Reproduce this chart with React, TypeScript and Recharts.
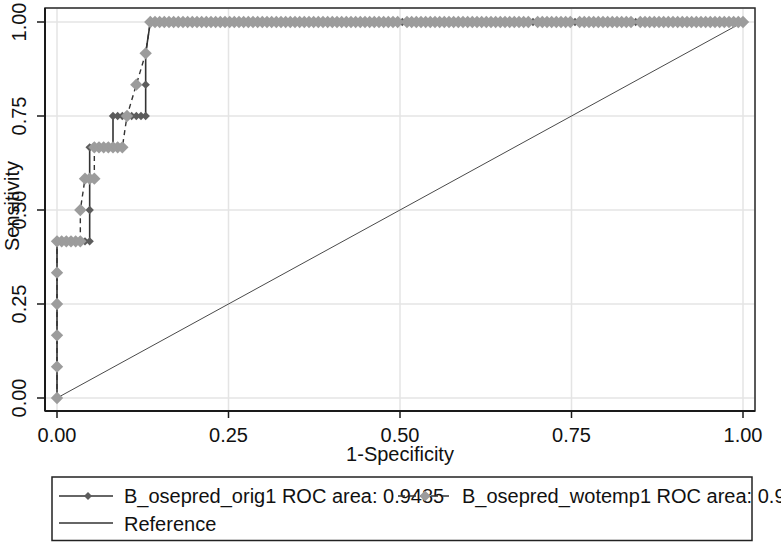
import * as React from "react";
import {
  LineChart,
  Line,
  XAxis,
  YAxis,
  CartesianGrid,
  Customized,
} from "recharts";

// counts: 147 negatives, 12 positives
const NEG = 147;
const POS = 12;

const ticks = [0, 0.25, 0.5, 0.75, 1];

// steps before the curves reach sensitivity 1
const origFP = [0, 0, 0, 0, 0, 0, 1, 2, 3, 4, 5, 6, 7, 7, 7, 7, 8, 9, 10, 11, 12, 12, 13, 14, 15, 16, 17, 18, 19, 19, 19];
const origTP = [0, 1, 2, 3, 4, 5, 5, 5, 5, 5, 5, 5, 5, 6, 7, 8, 8, 8, 8, 8, 8, 9, 9, 9, 9, 9, 9, 9, 9, 10, 11];

const wotempFP = [0, 0, 0, 0, 0, 0, 1, 2, 3, 4, 5, 5, 6, 7, 8, 8, 9, 10, 11, 12, 13, 14, 15, 17, 19];
const wotempTP = [0, 1, 2, 3, 4, 5, 5, 5, 5, 5, 5, 6, 7, 7, 7, 8, 8, 8, 8, 8, 8, 8, 9, 10, 11];

// false-positive counts along the top (sensitivity = 1)
const plateauFP = [
  20, 21, 22, 23, 24, 25, 26, 27, 28, 29, 30, 31, 32, 33, 34, 35, 36, 37, 38, 39,
  40, 41, 42, 43, 44, 45, 46, 47, 48, 49, 50, 51, 52, 53, 54, 55, 56, 57, 58, 59,
  60, 61, 62, 63, 64, 65, 66, 67, 68, 69, 70, 71, 72, 73, 74, 75, 76, 77, 78, 79,
  80, 81, 82, 83, 84, 85, 86, 87, 88, 89, 90, 91, 92, 93, 94, 95, 96, 97, 98, 99,
  100, 101, 102, 103, 104, 105, 106, 107, 108, 109, 110, 111, 112, 113, 114, 115,
  116, 117, 118, 119, 120, 121, 122, 123, 124, 125, 126, 127, 128, 129, 130, 131,
  132, 133, 134, 135, 136, 137, 138, 139, 140, 141, 142, 143, 144, 145, 146, 147,
];
// spots where only the orig markers show through
const wotempMissing = [74, 102, 111, 124];

const refX = [0, 1];

const toPoints = (fp: number[], tp: number[]) =>
  fp.map((f, i) => ({ x: f / NEG, y: tp[i] / POS }));

const origData = [
  ...toPoints(origFP, origTP),
  ...plateauFP.map((f) => ({ x: f / NEG, y: 1 })),
];
const wotempData = [
  ...toPoints(wotempFP, wotempTP),
  ...plateauFP
    .filter((f) => !wotempMissing.includes(f))
    .map((f) => ({ x: f / NEG, y: 1 })),
];
const refData = refX.map((v) => ({ x: v, y: v }));

const FONT = "'Liberation Sans', Arial, sans-serif";
const DARK_MARK = "#5c5c5c";
const LIGHT_MARK = "#9c9c9c";

const diamond = (cx: number, cy: number, r: number) =>
  `${cx},${cy - r} ${cx + r},${cy} ${cx},${cy + r} ${cx - r},${cy}`;

const darkDot = (p: any) => (
  <polygon key={`o-${p.index}`} points={diamond(p.cx, p.cy, 4.2)} fill={DARK_MARK} />
);
const lightDot = (p: any) => (
  <polygon key={`w-${p.index}`} points={diamond(p.cx, p.cy, 6.2)} fill={LIGHT_MARK} />
);

const XTick = (p: any) => (
  <text x={p.x} y={p.y + 22} textAnchor="middle" fontSize={20} fontFamily={FONT} fill="#111">
    {Number(p.payload.value).toFixed(2)}
  </text>
);

const YTick = (p: any) => {
  const cx = p.x - 9;
  return (
    <text
      x={cx}
      y={p.y}
      transform={`rotate(-90 ${cx} ${p.y})`}
      textAnchor="middle"
      fontSize={20}
      fontFamily={FONT}
      fill="#111"
    >
      {Number(p.payload.value).toFixed(2)}
    </text>
  );
};

const Overlay = () => (
  <g>
    <rect x={45} y={8} width={710} height={403} fill="none" stroke="#2a2a2a" strokeWidth={1.5} />
    <text x={400} y={461} textAnchor="middle" fontSize={20} fontFamily={FONT} fill="#111">
      1-Specificity
    </text>
    <text
      x={19}
      y={206}
      transform="rotate(-90 19 206)"
      textAnchor="middle"
      fontSize={20}
      fontFamily={FONT}
      fill="#111"
    >
      Sensitivity
    </text>
    {/* legend */}
    <rect x={52} y={477} width={700} height={63.5} fill="#fff" stroke="#222" strokeWidth={1.5} />
    <line x1={59} y1={496} x2={113} y2={496} stroke="#333" strokeWidth={1.5} />
    <polygon points={diamond(88, 496, 4)} fill={DARK_MARK} />
    <text x={124} y={503} fontSize={20} fontFamily={FONT} fill="#111">
      B_osepred_orig1 ROC area: 0.9485
    </text>
    <line x1={398} y1={496} x2={452} y2={496} stroke="#333" strokeWidth={1.5} strokeDasharray="7 4" />
    <polygon points={diamond(425, 496, 5.6)} fill={LIGHT_MARK} />
    <text x={462} y={503} fontSize={20} fontFamily={FONT} fill="#111">
      B_osepred_wotemp1 ROC area: 0.9
    </text>
    <line x1={59} y1={523} x2={113} y2={523} stroke="#333" strokeWidth={1.5} />
    <text x={124} y={531} fontSize={20} fontFamily={FONT} fill="#111">
      Reference
    </text>
  </g>
);

export default function App() {
  return (
    <div style={{ position: "absolute", left: 0, top: 0, width: 781, height: 542, background: "#fff" }}>
      <LineChart width={781} height={542} margin={{ top: 8, right: 26, bottom: 0, left: 0 }}>
        <CartesianGrid stroke="#e4e4e4" strokeWidth={1.5} />
        <XAxis
          type="number"
          dataKey="x"
          domain={[0, 1]}
          ticks={ticks}
          padding={{ left: 12, right: 12 }}
          height={131}
          tickSize={7}
          tick={XTick}
          axisLine={{ stroke: "#1a1a1a", strokeWidth: 2 }}
          tickLine={{ stroke: "#1a1a1a", strokeWidth: 1.5 }}
        />
        <YAxis
          type="number"
          dataKey="y"
          domain={[0, 1]}
          ticks={ticks}
          padding={{ top: 14, bottom: 13 }}
          width={45}
          tickSize={8}
          tick={YTick}
          axisLine={{ stroke: "#1a1a1a", strokeWidth: 2 }}
          tickLine={{ stroke: "#1a1a1a", strokeWidth: 1.5 }}
        />
        <Line
          data={origData}
          dataKey="y"
          type="linear"
          stroke="#333"
          strokeWidth={1.6}
          dot={darkDot}
          activeDot={false}
          isAnimationActive={false}
        />
        <Line
          data={wotempData}
          dataKey="y"
          type="linear"
          stroke="#333"
          strokeWidth={1.4}
          strokeDasharray="5 4"
          dot={lightDot}
          activeDot={false}
          isAnimationActive={false}
        />
        <Line
          data={refData}
          dataKey="y"
          type="linear"
          stroke="#4a4a4a"
          strokeWidth={1}
          dot={false}
          activeDot={false}
          isAnimationActive={false}
        />
        <Customized component={Overlay} />
      </LineChart>
    </div>
  );
}
